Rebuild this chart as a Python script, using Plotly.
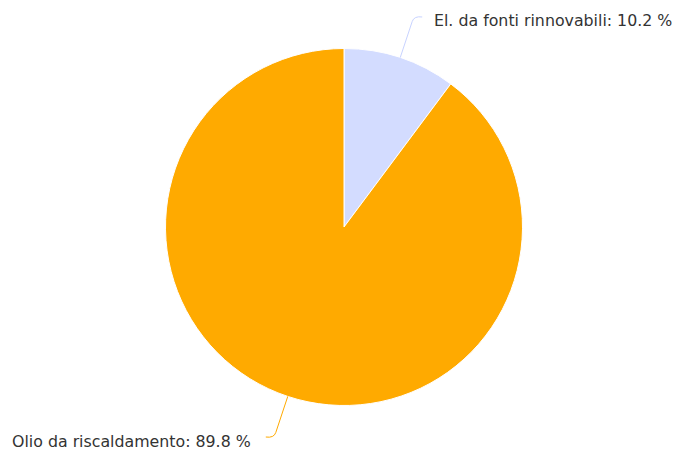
import math
import plotly.graph_objects as go

labels = ["El. da fonti rinnovabili", "Olio da riscaldamento"]
values = [10.2, 89.8]
colors = ["#d3dcff", "#ffaa00"]

W, H = 678, 452
cx, cy, r = 344, 227, 178.5

fig = go.Figure()
fig.add_trace(go.Pie(
    labels=labels, values=values, sort=False, direction="clockwise", rotation=0,
    marker=dict(colors=colors, line=dict(color="white", width=1)),
    textinfo="none", hoverinfo="label+percent", showlegend=False,
    domain=dict(x=[(cx - r) / W, (cx + r) / W], y=[1 - (cy + r) / H, 1 - (cy - r) / H]),
))

fig.add_trace(go.Scatter(x=[0, W], y=[0, H], mode="markers", marker=dict(opacity=0),
                         hoverinfo="skip", showlegend=False))

total = sum(values)
cum = 0
for lab, v, col in zip(labels, values, colors):
    mid = (cum + v / 2) / total * 2 * math.pi
    cum += v
    sx, sy = math.sin(mid), -math.cos(mid)
    x0, y0 = cx + r * sx, cy + r * sy
    x1, y1 = cx + (r + 38) * sx, cy + (r + 38) * sy
    side = 1 if sx >= 0 else -1
    x2 = x1 + side * 10
    yend = y1 + sy * 4.8
    qx, qy = x1 + sx * 6, y1 + sy * 6
    path = f"M {x0},{y0} L {x1},{y1} Q {qx},{qy} {x2},{yend}"
    lc = "#c8d3ff" if col == "#d3dcff" else col
    fig.add_shape(type="path", path=path, xref="x", yref="y",
                  line=dict(color=lc, width=1))
    fig.add_annotation(x=x2 + side * (10 if side > 0 else 13), y=yend + (3.5 if sy < 0 else 4.5),
                       xref="x", yref="y",
                       text=f"{lab}: {v:.1f} %", showarrow=False,
                       xanchor="left" if side > 0 else "right", yanchor="middle",
                       font=dict(family="DejaVu Sans", size=15.8, color="#333333"))

fig.update_layout(
    width=W, height=H, margin=dict(l=0, r=0, t=0, b=0),
    paper_bgcolor="white", plot_bgcolor="rgba(0,0,0,0)",
    xaxis=dict(range=[0, W], visible=False, fixedrange=True),
    yaxis=dict(range=[H, 0], visible=False, fixedrange=True),
)
fig.write_html("out.html", config={"displayModeBar": False},
               post_script="document.body.style.margin='0';document.body.style.overflow='hidden';")
